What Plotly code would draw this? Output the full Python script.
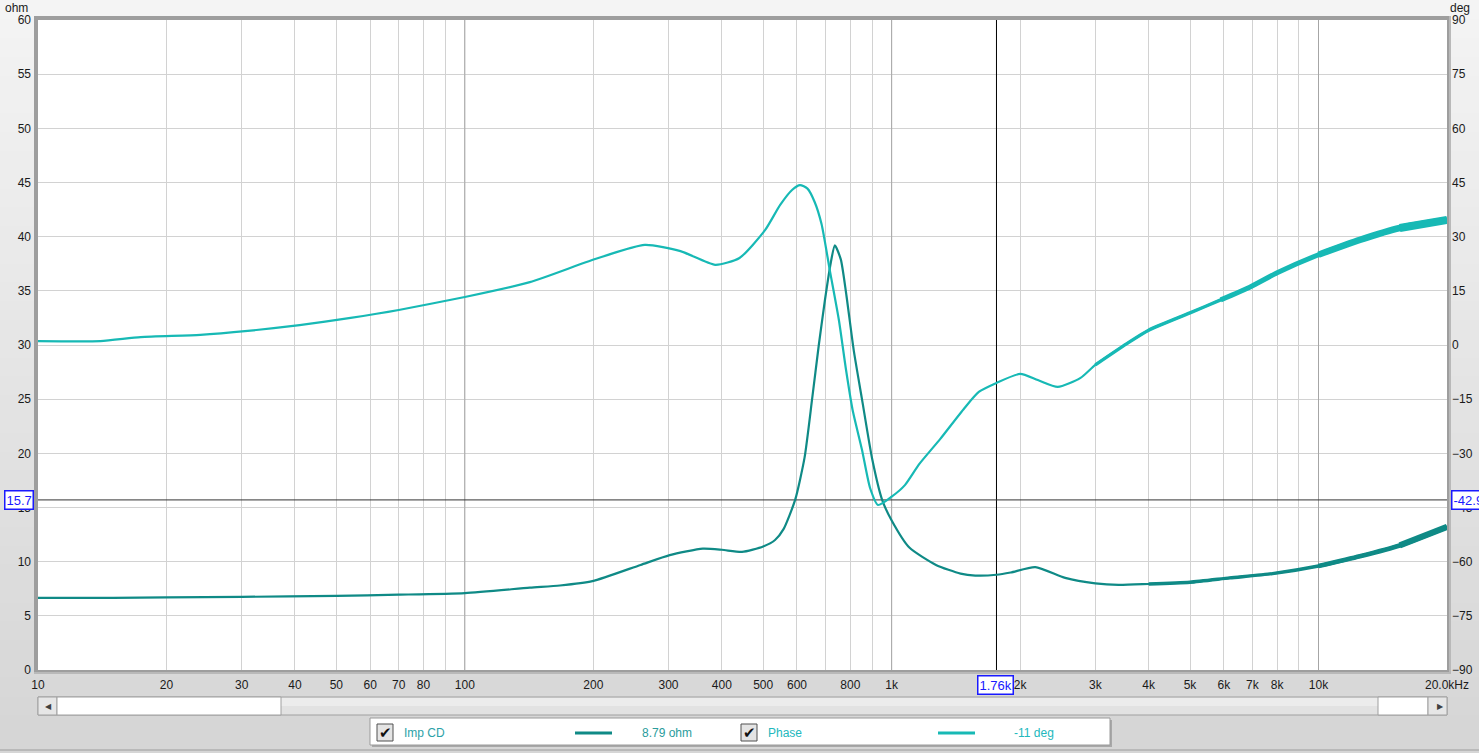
import numpy as np
import plotly.graph_objects as go

# ---------------- data ----------------
freq_z = [10, 15, 20, 30, 50, 70, 100, 142, 167, 199, 258, 302, 361, 400, 446, 500, 533, 558,
          594, 625, 651, 675, 698, 720, 736, 760, 782, 815, 852, 900, 950, 1000, 1100, 1270,
          1450, 1570, 1760, 1900, 2170, 2550, 3000, 3400, 4000, 5000, 6200, 7800, 10000,
          12500, 15500, 20000]
imp_ohm = [6.65, 6.65, 6.7, 6.75, 6.85, 6.95, 7.1, 7.6, 7.8, 8.2, 9.7, 10.6, 11.2, 11.1, 10.9, 11.4,
           12.0, 13.0, 15.7, 19.6, 25.0, 30.0, 34.2, 37.6, 39.2, 37.9, 34.8, 29.5, 25.0, 19.5, 15.7,
           13.8, 11.3, 9.7, 8.9, 8.72, 8.79, 9.0, 9.5, 8.5, 8.0, 7.85, 7.94, 8.1, 8.5, 8.9, 9.6,
           10.5, 11.5, 13.2]

freq_p = [10, 14, 17.4, 24, 31, 41, 54, 70, 100, 142, 202, 264, 320, 386, 440, 505, 548, 585, 610,
          635, 660, 685, 716, 752, 782, 810, 852, 890, 929, 1000, 1074, 1160, 1300, 1480, 1600, 1760,
          2000, 2200, 2450, 2770, 3000, 3600, 4000, 5000, 5900, 6900, 8000, 10000, 12500, 15500, 20000]
phase_deg = [1.1, 1.1, 2.2, 2.8, 3.9, 5.5, 7.5, 9.7, 13.3, 17.4, 23.8, 27.7, 26.0, 22.2, 24.1, 31.8,
             38.8, 43.0, 44.3, 43.3, 39.6, 33.5, 20.8, 7.0, -7.0, -18.0, -29.0, -39.6, -44.3, -42.0,
             -38.8, -33.0, -26.0, -17.5, -13.0, -10.5, -8.0, -9.7, -11.6, -9.1, -5.5, 0.8, 4.1, 8.9,
             12.5, 16.0, 20.0, 25.0, 29.1, 32.4, 34.6]

grid_freqs = [10, 20, 30, 40, 50, 60, 70, 80, 90, 100, 200, 300, 400, 500, 600, 700, 800, 900,
              1000, 2000, 3000, 4000, 5000, 6000, 7000, 8000, 9000, 10000, 20000]
grid_text = ["10", "20", "30", "40", "50", "60", "70", "80", "", "100", "200", "300", "400", "500",
             "600", "", "800", "", "1k", "2k", "3k", "4k", "5k", "6k", "7k", "8k", "", "10k", "20.0kHz"]
decade_freqs = [100, 1000, 10000]

cursor_freq = 1760
cursor_ohm = 15.7
cursor_labels = {"freq": "1.76k", "ohm": "15.7", "deg": "-42.9"}
legend_names = ["Imp CD", "Phase"]
legend_values = ["8.79 ohm", "-11 deg"]

# ---------------- style ----------------
W, H = 1479, 753
L, R, T, B = 38, 1447, 20, 670
C_IMP = "#0f8a86"
C_PH = "#17b9b5"
FONT = "Liberation Sans"


def px(x):
    return (x - L) / (R - L)


def py(y):
    return (B - y) / (B - T)


fig = go.Figure()

# decade gridlines (darker)
for f in decade_freqs:
    fig.add_trace(go.Scatter(x=[f, f], y=[0, 60], mode="lines", line=dict(color="#a6a6a6", width=1),
                             hoverinfo="skip", showlegend=False))

# cursor lines
fig.add_trace(go.Scatter(x=[cursor_freq, cursor_freq], y=[0, 60], mode="lines",
                         line=dict(color="#000000", width=1), hoverinfo="skip", showlegend=False))
fig.add_trace(go.Scatter(x=[10, 20000], y=[cursor_ohm, cursor_ohm], mode="lines",
                         line=dict(color="#333333", width=1), hoverinfo="skip", showlegend=False))

fz = np.array(freq_z)
zz = np.array(imp_ohm)
fp = np.array(freq_p)
pp = np.array(phase_deg)

SPL = dict(shape="spline", smoothing=0.6)
fig.add_trace(go.Scatter(x=fz, y=zz, mode="lines", name="Imp CD",
                         line=dict(color=C_IMP, width=2.2, **SPL)))
for fmin, w in [(4000, 3.4), (8000, 4.8), (14000, 6.2)]:
    m = fz >= fmin * 0.999
    fig.add_trace(go.Scatter(x=fz[m], y=zz[m], mode="lines", showlegend=False, hoverinfo="skip",
                             line=dict(color=C_IMP, width=w, **SPL)))
fig.add_trace(go.Scatter(x=fp, y=pp, mode="lines", name="Phase", yaxis="y2",
                         line=dict(color=C_PH, width=2.2, **SPL)))
for fmin, w in [(3000, 3.4), (5900, 5.0), (10000, 6.5), (15500, 8.0)]:
    m = fp >= fmin * 0.999
    fig.add_trace(go.Scatter(x=fp[m], y=pp[m], mode="lines", yaxis="y2", showlegend=False,
                             hoverinfo="skip", line=dict(color=C_PH, width=w, **SPL)))

shapes = []
# background gradient
n = 40
c0, c1 = np.array([244, 244, 244]), np.array([214, 214, 214])
for i in range(n):
    t = i / (n - 1)
    c = (c0 + (c1 - c0) * t).astype(int)
    y0 = H * i / n
    y1 = H * (i + 1) / n + 1
    shapes.append(dict(type="rect", xref="paper", yref="paper", x0=px(-5), x1=px(W + 5),
                       y0=py(y1), y1=py(y0), fillcolor="rgb(%d,%d,%d)" % tuple(c),
                       line=dict(width=0), layer="below"))
# plot frame
shapes.append(dict(type="rect", xref="paper", yref="paper", x0=px(34), x1=px(1451), y0=py(674), y1=py(16),
                   fillcolor="#b9b9b9", line=dict(width=0), layer="below"))
shapes.append(dict(type="rect", xref="paper", yref="paper", x0=px(34), x1=px(1449), y0=py(672), y1=py(16),
                   fillcolor="#9e9e9e", line=dict(width=0), layer="below"))
shapes.append(dict(type="rect", xref="paper", yref="paper", x0=px(L), x1=px(R), y0=0, y1=1,
                   fillcolor="#ffffff", line=dict(width=0), layer="below"))


def rect(x0, y0, x1, y1, fill, line="#a0a0a0", lw=1):
    shapes.append(dict(type="rect", xref="paper", yref="paper", x0=px(x0), x1=px(x1), y0=py(y1), y1=py(y0),
                       fillcolor=fill, line=dict(color=line, width=lw), layer="above"))


# scrollbar
rect(38, 697, 1447, 715, "#e2e2e2")
rect(281, 698, 1378, 706, "#ececec", line="rgba(0,0,0,0)", lw=0)
rect(38, 697, 57, 715, "#e6e6e6")
rect(57, 697, 281, 715, "#ffffff")
rect(1378, 697, 1428, 715, "#ffffff")
rect(1428, 697, 1447, 715, "#e6e6e6")

# legend panel
rect(372, 720, 1112, 747, "#a8a8a8", line="rgba(0,0,0,0)", lw=0)
rect(370, 718, 1110, 745, "#ffffff", line="#9a9a9a")
rect(377, 724, 393, 741, "#e4e4e4", line="#505050")
rect(741, 724, 757, 741, "#e4e4e4", line="#505050")
shapes.append(dict(type="line", xref="paper", yref="paper", x0=px(575), x1=px(612), y0=py(733), y1=py(733),
                   line=dict(color=C_IMP, width=3)))
shapes.append(dict(type="line", xref="paper", yref="paper", x0=px(938), x1=px(975), y0=py(733), y1=py(733),
                   line=dict(color=C_PH, width=3)))
# window bottom line
shapes.append(dict(type="line", xref="paper", yref="paper", x0=px(0), x1=px(W), y0=py(750), y1=py(750),
                   line=dict(color="#9c9c9c", width=1)))

ann = []


def text(x, y, s, color="#1a1a1a", size=12, xanchor="left", **kw):
    ann.append(dict(xref="paper", yref="paper", x=px(x), y=py(y), text=s, showarrow=False,
                    xanchor=xanchor, yanchor="middle", font=dict(family=FONT, size=size, color=color), **kw))


text(3, 8, "ohm")
text(1448, 8, "deg")
text(43, 706, "◀", color="#404040", size=8)
text(1435, 706, "▶", color="#404040", size=8)
text(385, 732, "✔", color="#111111", size=15, xanchor="center")
text(749, 732, "✔", color="#111111", size=15, xanchor="center")
text(402, 733, legend_names[0], color="#2ba2a8")
text(640, 733, legend_values[0], color="#2a9c9c")
text(766, 733, legend_names[1], color="#22b8bd")
text(1012, 733, legend_values[1], color="#22b8bd")

box = dict(bgcolor="#ffffff", bordercolor="#1a1aff", borderwidth=1.5, borderpad=1)
text(19, 500, cursor_labels["ohm"], color="#1a1aff", size=13, xanchor="center", **box)
text(1451, 500, cursor_labels["deg"], color="#1a1aff", size=13, **box)
text(995, 685, cursor_labels["freq"], color="#1a1aff", size=13, xanchor="center", **box)

fig.update_layout(
    width=W, height=H, autosize=False,
    margin=dict(l=L, r=W - R, t=T, b=H - B, pad=0, autoexpand=False),
    paper_bgcolor="#e6e6e6", plot_bgcolor="rgba(0,0,0,0)",
    showlegend=False,
    font=dict(family=FONT, size=12, color="#1a1a1a"),
    xaxis=dict(type="log", range=[1, np.log10(20000)], tickvals=grid_freqs, ticktext=grid_text,
               showgrid=True, gridcolor="#d2d2d2", gridwidth=1, zeroline=False, showline=False,
               ticks="", ticklabelstandoff=6, automargin=False),
    yaxis=dict(range=[0, 60], dtick=5, showgrid=True, gridcolor="#d2d2d2", zeroline=False,
               showline=False, ticks="", ticklabelstandoff=6, automargin=False),
    yaxis2=dict(range=[-90, 90], dtick=15, overlaying="y", side="right", showgrid=False,
                zeroline=False, showline=False, ticks="", ticklabelstandoff=4, automargin=False),
    shapes=shapes, annotations=ann,
)

fig.write_html("out.html", config={"displayModeBar": False},
               post_script="document.body.style.margin='0';document.body.style.overflow='hidden';")
